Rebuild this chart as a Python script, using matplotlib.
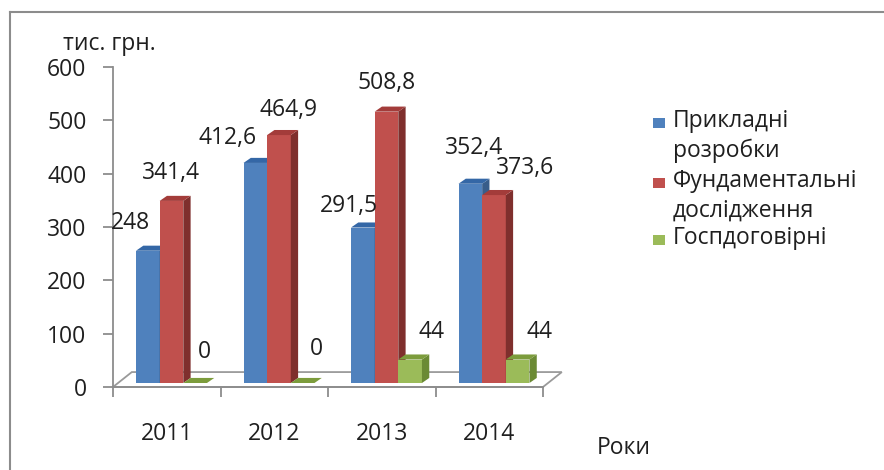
import numpy as np
import matplotlib.pyplot as plt
from matplotlib.patches import Polygon, Rectangle
from matplotlib.lines import Line2D

plt.rcParams['font.family'] = ['Open Sans', 'DejaVu Sans']

# --- data ---
years = ["2011", "2012", "2013", "2014"]
series_names = ["Прикладні\nрозробки", "Фундаментальні\nдослідження", "Госпдоговірні"]
applied = [248, 412.6, 291.5, 373.6]
fundamental = [341.4, 464.9, 508.8, 352.4]
contract = [0, 0, 44, 44]
# data labels exactly as printed on the chart
applied_lbl = ["248", "412,6", "291,5", "352,4"]
fundamental_lbl = ["341,4", "464,9", "508,8", "373,6"]
contract_lbl = ["0", "0", "44", "44"]

# --- style ---
front = ["#4F81BD", "#C0504D", "#9BBB59"]
side = ["#385D8A", "#7F2F2D", "#6B8A34"]
top = ["#3467A6", "#A33C3A", "#7C9C3C"]
# pixel nudges of the data labels (they were moved by hand in the original)
lbl_dx = [[-17, -28, -14, 4], [-1, 10, 0, 31], [9, 14, 21, 22]]
lbl_dy = [[28, 25, 22, 36], [28, 25, 29, 27], [31, 34, 28, 28]]
txt_color = "#1F1F1F"
fs = 16.5

bar_w = 0.22
first_off = -0.286
base = 7.5          # bars stand in the middle of the floor depth
ddx, ddy = 0.068, 9.5   # 3d depth of a bar
fdx, fdy = 0.175, 28    # 3d depth of the floor

fig = plt.figure(figsize=(8.84, 4.70), dpi=100)
fig.patch.set_facecolor("white")
ax = fig.add_axes([113/884, 83/470, 430/884, 320/470])
ax.set_facecolor("none")

# outer frame (only top / left visible in the original)
fig.add_artist(Line2D([10/884, 10/884], [0, 1 - 12/470], color="#8C8C8C", lw=1.5))
fig.add_artist(Line2D([10/884, 1], [1 - 12/470, 1 - 12/470], color="#8C8C8C", lw=1.5))

x = np.arange(len(years))

# floor
floor = Polygon([(-0.5, 0), (3.5, 0), (3.5 + fdx, fdy), (-0.5 + fdx, fdy)],
                closed=True, facecolor="white", edgecolor="#9A9A9A", lw=1.3,
                clip_on=False, zorder=1)
ax.add_patch(floor)

all_vals = [applied, fundamental, contract]
all_lbls = [applied_lbl, fundamental_lbl, contract_lbl]
z = 2
for i in range(len(years)):
    for k, vals in enumerate(all_vals):
        h = vals[i]
        xl = x[i] + first_off + k * bar_w
        xr = xl + bar_w
        ax.bar(xl, h, width=bar_w, bottom=base, align='edge', color=front[k],
               edgecolor="none", zorder=z, clip_on=False)
        ax.add_patch(Polygon([(xr, base), (xr + ddx, base + ddy),
                              (xr + ddx, base + h + ddy), (xr, base + h)],
                             closed=True, facecolor=side[k], edgecolor="none",
                             zorder=z, clip_on=False))
        ax.add_patch(Polygon([(xl, base + h), (xl + ddx, base + h + ddy),
                              (xr + ddx, base + h + ddy), (xr, base + h)],
                             closed=True, facecolor=top[k], edgecolor="none",
                             zorder=z, clip_on=False))
        ax.annotate(all_lbls[k][i], xy=(xl + bar_w / 2, base + h),
                    xytext=(lbl_dx[k][i], lbl_dy[k][i]),
                    textcoords='offset pixels',
                    ha='center', va='center', fontsize=fs, color=txt_color,
                    zorder=20)
        z += 1

ax.set_xlim(-0.5, 3.5)
ax.set_ylim(0, 600)
ax.set_yticks(np.arange(0, 601, 100))
ax.set_xticks(np.arange(-0.5, 3.6, 1))
ax.set_xticklabels([])
ax.set_xticks(x, minor=True)
ax.set_xticklabels(years, minor=True)
ax.tick_params(axis='x', which='major', length=7, width=1.3, color="#8C8C8C")
ax.tick_params(axis='x', which='minor', length=0, pad=25, labelsize=fs,
               labelcolor=txt_color)
ax.tick_params(axis='y', length=7, width=1.3, color="#8C8C8C", pad=12,
               labelsize=fs, labelcolor=txt_color)
for s in ["top", "right"]:
    ax.spines[s].set_visible(False)
for s in ["left", "bottom"]:
    ax.spines[s].set_color("#8C8C8C")
    ax.spines[s].set_linewidth(1.3)

fig.text(63/884, 1 - 44/470, "тис. грн.", fontsize=fs, color=txt_color,
         ha='left', va='center')
fig.text(597/884, 1 - 448/470, "Роки", fontsize=fs, color=txt_color,
         ha='left', va='center')

# legend: square aligned with the first line of each entry
leg_rows = [123, 183, 240]   # pixel rows of the first line of each entry
for name, c, row in zip(series_names, front, leg_rows):
    fig.add_artist(Rectangle((653/884, 1 - (row + 5)/470), 12/884, 10/470,
                             transform=fig.transFigure, facecolor=c,
                             edgecolor="none"))
    fig.text(673/884, 1 - (row - 14)/470, name, fontsize=fs, color=txt_color,
             ha='left', va='top', linespacing=1.3)

fig.savefig("out.png", dpi=100)
